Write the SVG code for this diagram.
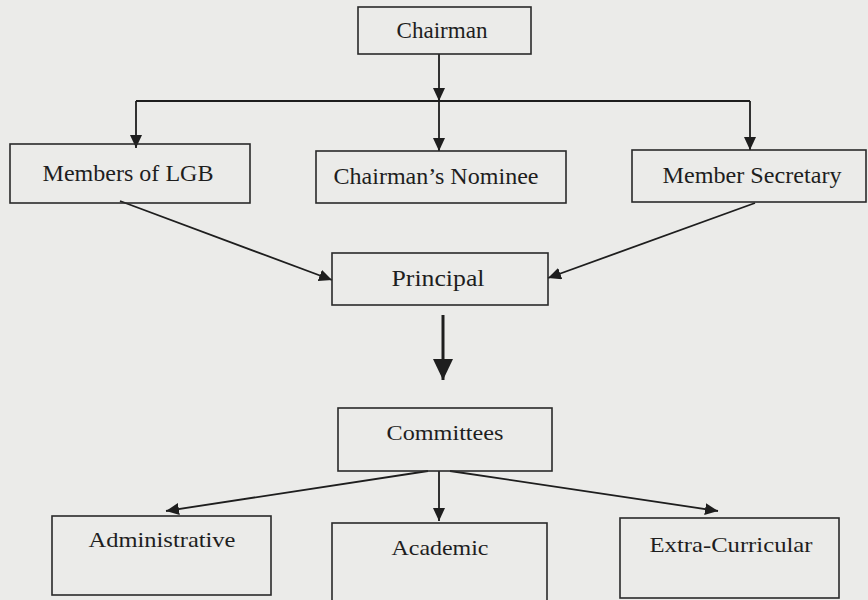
<svg xmlns="http://www.w3.org/2000/svg" width="868" height="600" viewBox="0 0 868 600">
<defs>
<marker id="ah" markerUnits="userSpaceOnUse" markerWidth="14" markerHeight="12" refX="13" refY="6" orient="auto">
<path d="M0,0 L13,6 L0,12 Z" fill="#1e1e1e"/>
</marker>
<marker id="ahBig" markerUnits="userSpaceOnUse" markerWidth="22" markerHeight="20" refX="21" refY="10" orient="auto">
<path d="M0,0 L21,10 L0,20 Z" fill="#1e1e1e"/>
</marker>
<style>
.box{fill:none;stroke:#2a2a2a;stroke-width:1.6}
.t{font-family:"Liberation Serif","Times New Roman",serif;fill:#1e1e1e;text-anchor:middle}
.top{font-size:24px}
.bot{font-size:21px}
.c{fill:none;stroke:#1e1e1e;stroke-width:1.8}
</style>
</defs>
<rect width="868" height="600" fill="#ebebe9"/>
<g id="connectors">
<line class="c" x1="439" y1="54" x2="439" y2="101" marker-end="url(#ah)"/>
<line class="c" x1="136" y1="101" x2="750" y2="101"/>
<line class="c" x1="136" y1="101" x2="136" y2="148" marker-end="url(#ah)"/>
<line class="c" x1="439" y1="101" x2="439" y2="151" marker-end="url(#ah)"/>
<line class="c" x1="750" y1="101" x2="750" y2="150" marker-end="url(#ah)"/>
<line class="c" x1="120" y1="201" x2="332" y2="280" marker-end="url(#ah)"/>
<line class="c" x1="755" y1="203" x2="548" y2="278" marker-end="url(#ah)"/>
<line class="c" style="stroke-width:3" x1="443" y1="315" x2="443" y2="380" marker-end="url(#ahBig)"/>
<line class="c" x1="428" y1="471" x2="166" y2="511" marker-end="url(#ah)"/>
<line class="c" x1="439" y1="471" x2="439" y2="521" marker-end="url(#ah)"/>
<line class="c" x1="450" y1="471" x2="718" y2="511" marker-end="url(#ah)"/>
</g>
<g id="chairman">
<rect class="box" x="358" y="7" width="173" height="47"/>
<text class="t top" x="442" y="38" textLength="91" lengthAdjust="spacingAndGlyphs">Chairman</text>
</g>
<g id="members-lgb">
<rect class="box" x="10" y="144" width="240" height="59"/>
<text class="t top" x="128" y="181" textLength="171" lengthAdjust="spacingAndGlyphs">Members of LGB</text>
</g>
<g id="chairmans-nominee">
<rect class="box" x="316" y="151" width="250" height="52"/>
<text class="t top" x="436" y="184" textLength="205" lengthAdjust="spacingAndGlyphs">Chairman’s Nominee</text>
</g>
<g id="member-secretary">
<rect class="box" x="632" y="150" width="234" height="52"/>
<text class="t top" x="752" y="183" textLength="179" lengthAdjust="spacingAndGlyphs">Member Secretary</text>
</g>
<g id="principal">
<rect class="box" x="332" y="253" width="216" height="52"/>
<text class="t top" x="438" y="286" textLength="93" lengthAdjust="spacingAndGlyphs">Principal</text>
</g>
<g id="committees">
<rect class="box" x="338" y="408" width="214" height="63"/>
<text class="t bot" x="445" y="440" textLength="117" lengthAdjust="spacingAndGlyphs">Committees</text>
</g>
<g id="administrative">
<rect class="box" x="52" y="516" width="219" height="79"/>
<text class="t bot" x="162" y="547" textLength="147" lengthAdjust="spacingAndGlyphs">Administrative</text>
</g>
<g id="academic">
<rect class="box" x="332" y="523" width="215" height="90"/>
<text class="t bot" x="440" y="555" textLength="97" lengthAdjust="spacingAndGlyphs">Academic</text>
</g>
<g id="extra-curricular">
<rect class="box" x="620" y="518" width="219" height="80"/>
<text class="t bot" x="731" y="552" textLength="163" lengthAdjust="spacingAndGlyphs">Extra-Curricular</text>
</g>
</svg>
